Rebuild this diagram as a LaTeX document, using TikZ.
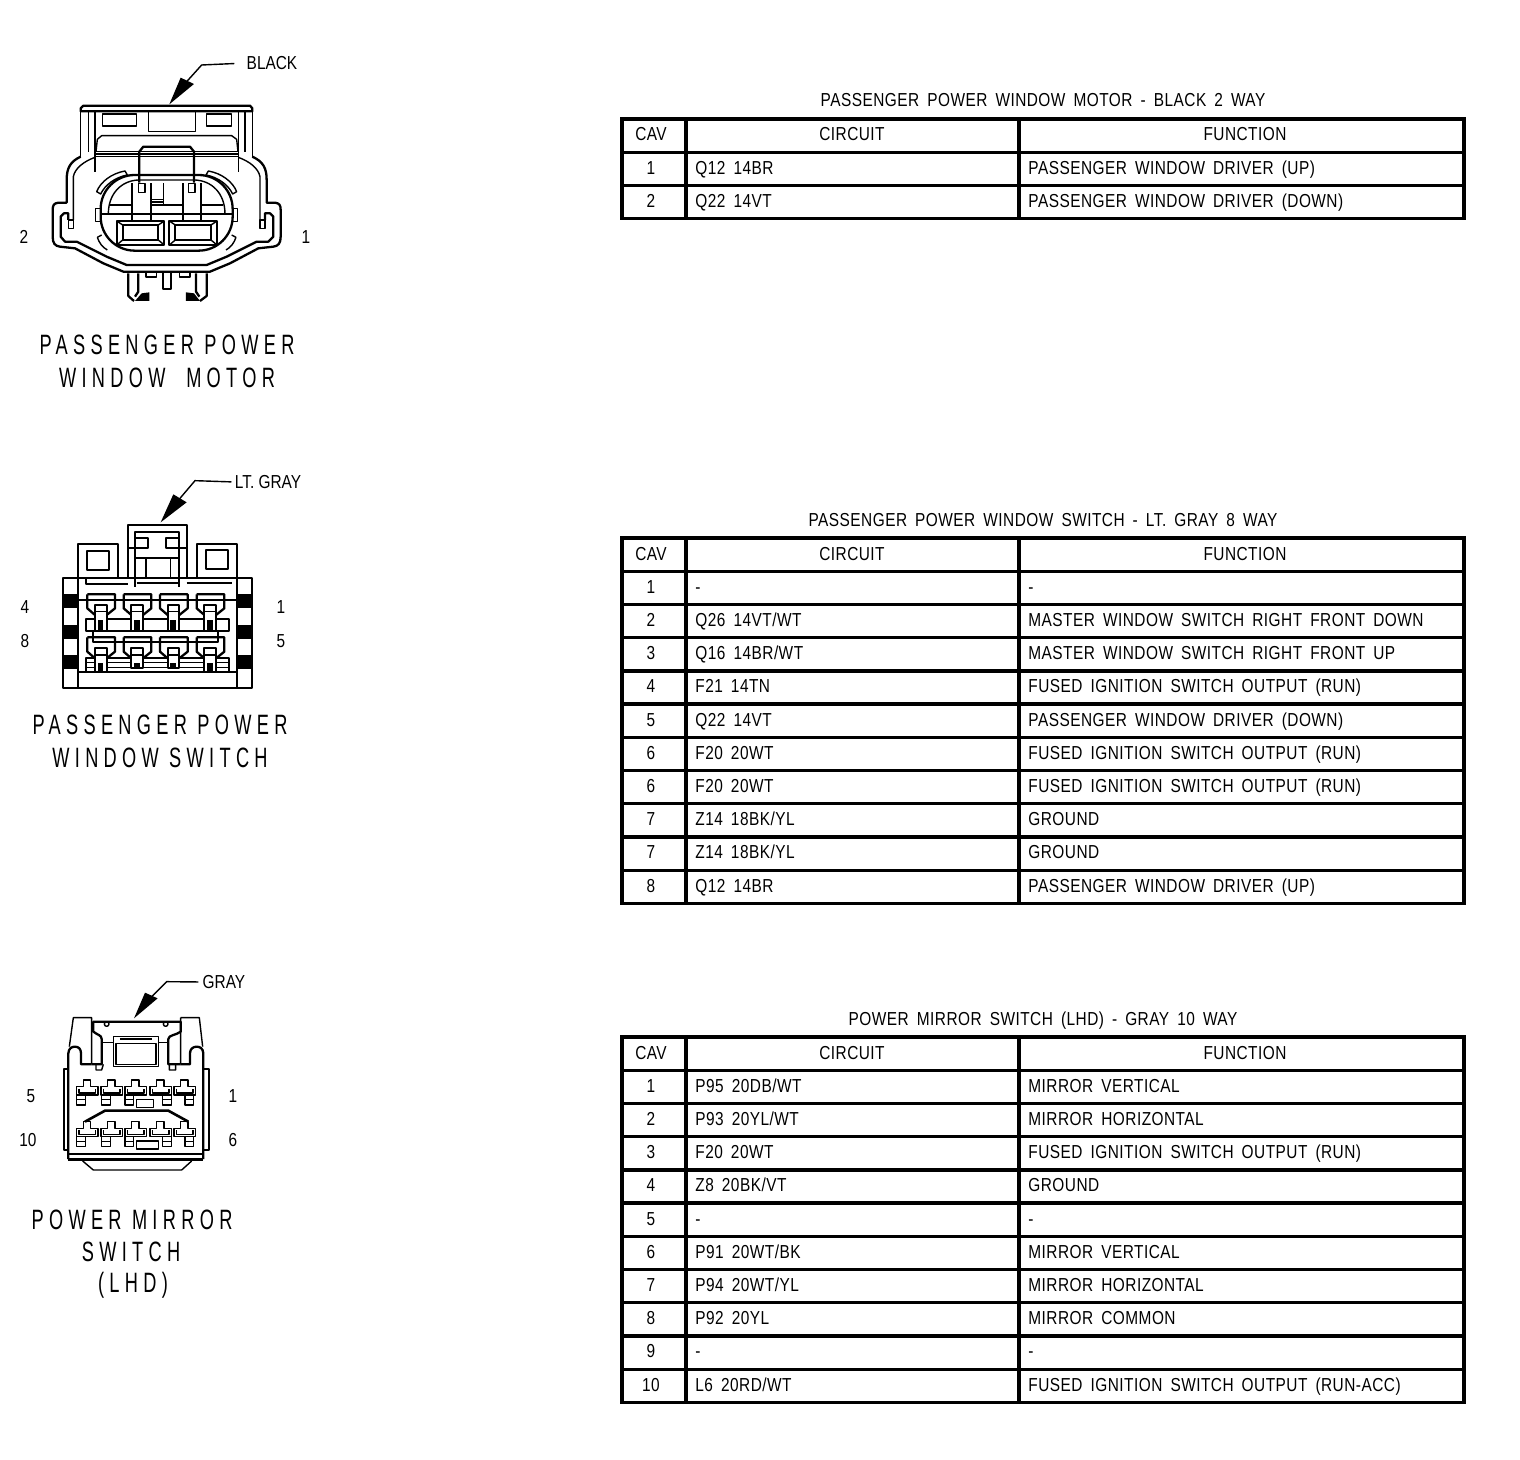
\documentclass[tikz,border=0pt]{standalone}
\usepackage{fontspec}
\setmainfont[FakeStretch=0.82,LetterSpace=2.5,WordSpace=1.7]{Liberation Sans}
\newfontfamily\labelfont[FakeStretch=0.82]{Liberation Sans}
\newfontfamily\captionfont[FakeStretch=0.65,LetterSpace=19]{Liberation Sans}
\usetikzlibrary{
    calc,
    arrows.meta
}
\tikzset{
    thinline/.style={line width=0.7pt, line join=round},
    heavyline/.style={line width=1.15pt, line join=round},
    tablerule/.style={line width=1.7pt},
    tabletext/.style={inner sep=0pt, anchor=base, font=\fontsize{9.4}{11}\selectfont},
    leftcell/.style={tabletext, anchor=base west},
    pinlabel/.style={inner sep=0pt, font=\labelfont\fontsize{9.4}{11}\selectfont},
    conncaption/.style={inner sep=0pt, font=\captionfont\fontsize{14}{16}\selectfont},
    leader/.style={line width=0.7pt},
}
\newcommand{\cavtable}[5]{%
    \node[tabletext] (#1title) at (1043,{#2-12}) {#3};
    \draw[tablerule] (622,#2) rectangle (1464,{#2+33.22*(#4+1)});
    \draw[tablerule] (686,#2) -- (686,{#2+33.22*(#4+1)});
    \draw[tablerule] (1019,#2) -- (1019,{#2+33.22*(#4+1)});
    \node[tabletext] (#1cav) at (651,{#2+22}) {CAV};
    \node[tabletext] (#1circuit) at (852,{#2+22}) {CIRCUIT};
    \node[tabletext] (#1function) at (1245,{#2+22}) {FUNCTION};
    \foreach \cav/\wire/\func [count=\r] in {#5} {
        \draw[tablerule] (622,{#2+33.22*\r}) -- (1464,{#2+33.22*\r});
        \node[tabletext] (#1cav\r) at (651,{#2+33.22*\r+22}) {\cav};
        \node[leftcell] (#1wire\r) at (695,{#2+33.22*\r+22}) {\wire};
        \node[leftcell] (#1func\r) at (1028,{#2+33.22*\r+22}) {\func};
    }
}
\begin{document}
\begin{tikzpicture}[x=0.5pt,y=-0.5pt]
    \useasboundingbox (0,0) rectangle (1520,1460);

    % tables
    \cavtable{motor}{119}{PASSENGER POWER WINDOW MOTOR - BLACK 2 WAY}{2}{
        1/Q12 14BR/PASSENGER WINDOW DRIVER (UP),
        2/Q22 14VT/PASSENGER WINDOW DRIVER (DOWN)}
    \cavtable{switch}{538}{PASSENGER POWER WINDOW SWITCH - LT. GRAY 8 WAY}{10}{
        1/-/-,
        2/{Q26 14VT/WT}/MASTER WINDOW SWITCH RIGHT FRONT DOWN,
        3/{Q16 14BR/WT}/MASTER WINDOW SWITCH RIGHT FRONT UP,
        4/F21 14TN/FUSED IGNITION SWITCH OUTPUT (RUN),
        5/Q22 14VT/PASSENGER WINDOW DRIVER (DOWN),
        6/F20 20WT/FUSED IGNITION SWITCH OUTPUT (RUN),
        6/F20 20WT/FUSED IGNITION SWITCH OUTPUT (RUN),
        7/{Z14 18BK/YL}/GROUND,
        7/{Z14 18BK/YL}/GROUND,
        8/Q12 14BR/PASSENGER WINDOW DRIVER (UP)}
    \cavtable{mirror}{1037}{POWER MIRROR SWITCH (LHD) - GRAY 10 WAY}{10}{
        1/{P95 20DB/WT}/MIRROR VERTICAL,
        2/{P93 20YL/WT}/MIRROR HORIZONTAL,
        3/F20 20WT/FUSED IGNITION SWITCH OUTPUT (RUN),
        4/{Z8 20BK/VT}/GROUND,
        5/-/-,
        6/{P91 20WT/BK}/MIRROR VERTICAL,
        7/{P94 20WT/YL}/MIRROR HORIZONTAL,
        8/P92 20YL/MIRROR COMMON,
        9/-/-,
        10/{L6 20RD/WT}/FUSED IGNITION SWITCH OUTPUT (RUN-ACC)}

    % window motor connector
    \node[pinlabel] (blacklabel) at (272,63) {BLACK};
    \node[pinlabel] (motorpin2) at (24,237) {2};
    \node[pinlabel] (motorpin1) at (306,237) {1};
    \node[conncaption] (motorcap1) at (167,345) {PASSENGER POWER};
    \node[conncaption] (motorcap2) at (167,378) {WINDOW~~MOTOR};
    \begin{scope}[shift={(10,40)},scale=1/3]
        \coordinate (blacktip) at (478,193);
        \draw[leader, shorten <=6pt] (blacklabel.west) -- (575,75) -- (530,125);
        \fill (blacktip) -- (512,113) -- (552,132) -- cycle;
        % cap and walls
        \draw[heavyline] (212,214) -- (212,205) -- (220,197) -- (720,197) -- (727,205) -- (727,214) -- cycle;
        \draw[thinline] (212,214) -- (212,350) (235,214) -- (235,335) (255,214) -- (255,395)
            (727,214) -- (727,350) (705,214) -- (705,335) (685,214) -- (685,395);
        \draw[thinline] (278,222) rectangle (380,258) (415,214) rectangle (557,275) (590,222) rectangle (665,258);
        \draw[thinline] (258,335) -- (262,298) -- (275,287) -- (665,287) -- (680,298) -- (684,335);
        \draw[thinline] (255,335) -- (685,335) (255,342) -- (685,342) (255,349) -- (685,349);
        \draw[heavyline] (388,428) -- (388,335) -- (400,320) -- (540,320) -- (552,335) -- (552,428);
        \draw[thinline] (385,430) rectangle (405,458) (535,430) rectangle (555,458);
        % shell
        \draw[heavyline] (212,350) .. controls (180,365) and (170,385) .. (170,420) -- (170,488) -- (145,488)
            .. controls (132,490) and (128,495) .. (128,510) -- (128,590)
            .. controls (128,610) and (135,618) .. (150,620) -- (195,625) -- (280,670) -- (340,695) -- (600,695)
            -- (660,670) -- (745,625) -- (790,620) .. controls (805,618) and (812,610) .. (812,590)
            -- (812,510) .. controls (812,495) and (808,490) .. (795,488) -- (770,488) -- (770,420)
            .. controls (770,385) and (760,365) .. (727,350);
        \draw[thinline] (190,540) -- (190,410) .. controls (195,385) and (220,365) .. (255,352)
            (750,540) -- (750,410) .. controls (745,385) and (720,365) .. (685,352);
        \draw[heavyline] (175,540) -- (175,520) -- (162,520) -- (152,530) -- (152,590) -- (165,605) -- (200,605)
            -- (290,650) -- (350,675) -- (590,675) -- (650,650) -- (740,605) -- (775,605) -- (790,590)
            -- (790,530) -- (780,520) -- (765,520) -- (765,540);
        \draw[thinline] (175,540) rectangle (190,565) (750,540) rectangle (765,565);
        % plug oval
        \draw[heavyline, rounded corners=17pt] (272,405) rectangle (668,632);
        \draw[thinline] (295,522) .. controls (295,460) and (335,422) .. (385,420) -- (555,420)
            .. controls (605,422) and (645,460) .. (645,522);
        \draw[thinline] (275,522) -- (668,522);
        \draw[thinline] (260,455) .. controls (272,425) and (305,400) .. (345,393) -- (352,405)
            .. controls (315,412) and (285,435) .. (272,462) -- cycle;
        \draw[thinline] (680,455) .. controls (668,425) and (635,400) .. (595,393) -- (588,405)
            .. controls (625,412) and (655,435) .. (668,462) -- cycle;
        \draw[thinline] (262,592) -- (275,585) (262,592) .. controls (268,610) and (278,622) .. (292,630);
        \draw[thinline] (678,592) -- (665,585) (678,592) .. controls (672,610) and (662,622) .. (648,630);
        \draw[thinline] (257,505) rectangle (272,545) (668,505) rectangle (683,545);
        % terminals
        \draw[heavyline] (365,430) -- (365,542) -- (423,542) -- (423,430) (518,430) -- (518,542) -- (573,542) -- (573,430);
        \draw[thinline] (300,495) -- (365,495) (423,495) -- (518,495) (573,495) -- (640,495)
            (423,478) -- (460,478) (423,486) -- (460,486) (460,430) -- (460,495);
        \foreach \x in {320,478} {
            \draw[heavyline] (\x,543) rectangle ({\x+143},615);
            \draw[heavyline] ({\x+18},555) rectangle ({\x+125},600);
            \draw[thinline] (\x,543) -- ({\x+18},555) ({\x+143},543) -- ({\x+125},555)
                (\x,615) -- ({\x+18},600) ({\x+143},615) -- ({\x+125},600);
        }
        % pins below the shell
        \draw[heavyline] (355,700) -- (355,768) -- (372,783) (385,700) -- (385,755) -- (375,770);
        \draw[heavyline] (590,700) -- (590,768) -- (570,783) (558,700) -- (558,755) -- (568,770);
        \fill (375,783) -- (418,783) -- (418,757) -- (395,760) -- cycle;
        \fill (570,783) -- (528,783) -- (528,757) -- (552,760) -- cycle;
        \draw[heavyline] (458,698) -- (458,748) -- (483,748) -- (483,698);
        \draw[thinline] (408,698) -- (408,711) -- (440,711) -- (440,698) (508,698) -- (508,711) -- (540,711) -- (540,698);
    \end{scope}

    % window switch connector
    \node[pinlabel] (ltgraylabel) at (268,482) {LT. GRAY};
    \node[pinlabel] (switchpin4) at (25,607) {4};
    \node[pinlabel] (switchpin8) at (25,641) {8};
    \node[pinlabel] (switchpin1) at (281,607) {1};
    \node[pinlabel] (switchpin5) at (281,641) {5};
    \node[conncaption] (switchcap1) at (160,725) {PASSENGER POWER};
    \node[conncaption] (switchcap2) at (160,758) {WINDOW SWITCH};
    \begin{scope}[shift={(10,465)},scale=1/3]
        \coordinate (ltgraytip) at (452,172);
        \draw[leader, shorten <=1.5pt] (ltgraylabel.west) -- (555,47) -- (510,100);
        \fill (ltgraytip) -- (490,88) -- (530,112) -- cycle;
        \draw[heavyline] (160,340) rectangle (725,670);
        \draw[heavyline] (205,340) -- (205,670) (680,340) -- (680,670);
        \foreach \y in {388,480,570} {
            \fill (160,\y) rectangle (205,{\y+42});
            \fill (680,\y) rectangle (725,{\y+42});
        }
        \draw[heavyline] (205,622) -- (680,622);
        % locking tabs
        \draw[heavyline] (205,355) -- (205,237) -- (325,237) -- (325,340);
        \draw[heavyline] (562,340) -- (562,237) -- (682,237) -- (682,355);
        \draw[heavyline] (230,257) rectangle (298,315) (588,255) rectangle (655,313);
        \draw[heavyline] (355,340) -- (355,180) -- (530,180) -- (530,340);
        \draw[heavyline] (375,365) -- (375,200) -- (508,200) -- (508,365);
        \draw[heavyline] (355,248) -- (415,248) -- (415,218) -- (375,218) (508,218) -- (467,218) -- (467,248) -- (530,248);
        \draw[heavyline] (375,280) -- (508,280);
        \draw[thinline] (408,280) -- (408,340) (482,280) -- (482,340);
        \draw[heavyline] (228,340) -- (228,358) -- (355,358) (380,355) -- (505,355) (530,355) -- (665,355);
        % cross bars
        \draw[heavyline] (227,463) rectangle (658,497);
        \draw[heavyline] (248,497) -- (248,532) -- (625,532) -- (625,497);
        \draw[heavyline] (227,622) -- (227,580) -- (658,580) -- (658,622);
        \draw[thinline] (227,592) -- (658,592) (227,608) -- (658,608);
        \draw[heavyline] (160,405) -- (725,405);
        % cavities
        \foreach \x/\b in {272/622,381/608,490/608,600/622} {
            \draw[heavyline] ({\x-40},388) -- ({\x+43},388) -- ({\x+43},430) -- ({\x+18},450)
                ({\x-40},388) -- ({\x-40},430) -- ({\x-17},450);
            \draw[heavyline, fill=white] ({\x-17},420) rectangle ({\x+18},497);
            \draw[thinline] ({\x-17},440) -- ({\x+18},440);
            \fill ({\x-9},465) rectangle ({\x+8},497);
            \draw[heavyline] ({\x-40},517) -- ({\x+43},517) -- ({\x+43},560) -- ({\x+18},580)
                ({\x-40},517) -- ({\x-40},560) -- ({\x-17},580);
            \draw[heavyline, fill=white] ({\x-17},548) rectangle ({\x+18},\b);
            \draw[thinline] ({\x-17},570) -- ({\x+18},570);
            \fill ({\x-9},595) rectangle ({\x+8},\b);
        }
    \end{scope}

    % mirror switch connector
    \node[pinlabel] (graylabel) at (224,982) {GRAY};
    \node[pinlabel] (mirrorpin5) at (31,1096) {5};
    \node[pinlabel] (mirrorpin10) at (28,1140) {10};
    \node[pinlabel] (mirrorpin1) at (233,1096) {1};
    \node[pinlabel] (mirrorpin6) at (233,1140) {6};
    \node[conncaption] (mirrorcap1) at (132,1220) {POWER MIRROR};
    \node[conncaption] (mirrorcap2) at (131,1252) {SWITCH};
    \node[conncaption] (mirrorcap3) at (133,1285) {(LHD)};
    \begin{scope}[shift={(10,965)},scale=1/3]
        \coordinate (graytip) at (372,160);
        \draw[leader, shorten <=2pt] (graylabel.west) -- (470,50) -- (425,95);
        \fill (graytip) -- (405,83) -- (443,100) -- cycle;
        \draw[heavyline] (175,582) -- (175,265) .. controls (176,250) and (185,245) .. (195,245)
            .. controls (206,245) and (213,252) .. (213,265) -- (213,298) -- (245,298);
        \draw[heavyline] (580,582) -- (580,265) .. controls (579,250) and (570,245) .. (560,245)
            .. controls (549,245) and (540,252) .. (540,265) -- (540,298) -- (512,298);
        \draw[heavyline] (245,298) -- (275,298) -- (275,222) .. controls (275,210) and (262,210) .. (250,200) -- (250,170) -- (512,170)
            -- (512,200) .. controls (500,210) and (475,210) .. (475,222) -- (475,298) -- (512,298);
        \draw[heavyline] (175,568) -- (580,568);
        \draw[line width=1.5pt] (175,582) -- (580,582);
        \draw[thinline] (178,245) -- (190,158) -- (245,158) -- (245,298) (512,158) -- (568,158) -- (578,245) (512,158) -- (512,298);
        \draw[thinline] (310,215) rectangle (445,305) (318,235) rectangle (438,298) (330,222) -- (425,222)
            (275,232) -- (310,232) (445,232) -- (475,232);
        \draw[thinline] (290,177) circle (7) (467,177) circle (7);
        \draw[thinline] (175,312) -- (162,312) -- (162,555) -- (175,555) (580,312) -- (597,312) -- (597,555) -- (580,555);
        \draw[thinline] (258,298) -- (258,315) -- (275,315) -- (280,298) (478,298) -- (478,315) -- (497,315) -- (497,298);
        \draw[thinline] (218,588) -- (250,615) -- (515,615) -- (545,588);
        % cavities
        \foreach \x/\f in {200/0,273/2,345/0,420/38,492/33} {
            \foreach \yy in {0,125} {
                \draw[thinline] (\x,{365+\yy}) -- ({\x+20},{365+\yy}) -- ({\x+20},{345+\yy}) -- ({\x+42},{345+\yy})
                    -- ({\x+42},{365+\yy}) -- ({\x+64},{365+\yy}) -- ({\x+64},{390+\yy}) -- (\x,{390+\yy}) -- cycle;
                \draw[thinline] ({\x+7},{371+\yy}) -- ({\x+7},{384+\yy}) -- ({\x+57},{384+\yy}) -- ({\x+57},{371+\yy});
                \draw[thinline] ({\x+\f},{390+\yy}) rectangle ({\x+\f+26},{420+\yy});
                \draw[thinline] ({\x+\f},{404+\yy}) -- ({\x+\f+26},{404+\yy});
            }
        }
        \draw[thinline] (380,403) rectangle (430,427) (380,528) rectangle (445,552);
        \draw[line width=1.3pt] (225,470) -- (285,437) -- (475,437) -- (535,470);
    \end{scope}
\end{tikzpicture}
\end{document}
